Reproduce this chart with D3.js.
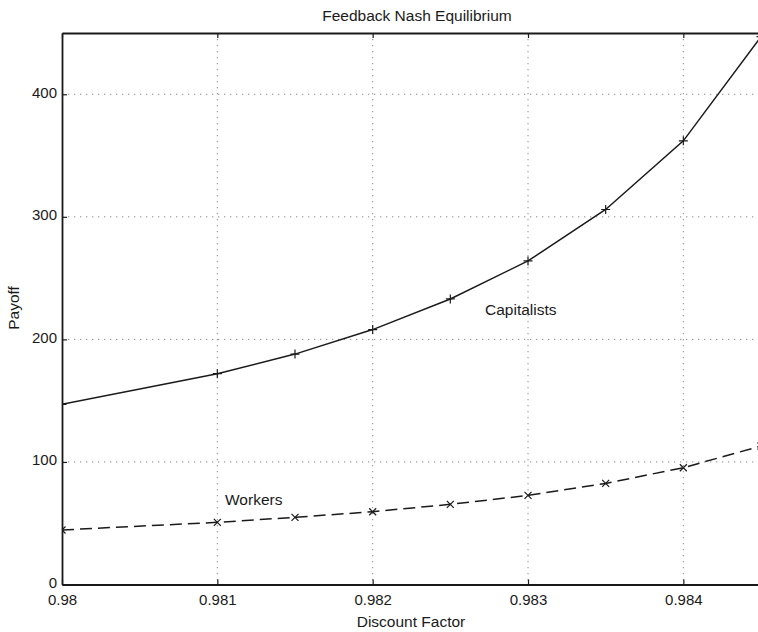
<!DOCTYPE html>
<html lang="en">
<head>
    <meta charset="utf-8">
    <title>Feedback Nash Equilibrium</title>
    <script type="text/javascript" src="https://cdnjs.cloudflare.com/ajax/libs/d3/7.8.5/d3.min.js"></script>
	<style>
	body { margin: 0; background: #fff; }
	svg { display: block; font-family: "Liberation Sans", Arial, sans-serif; }
	.grid line { stroke: #888; stroke-width: 1; stroke-dasharray: 1.3,4.7; }
	.axis path, .axis line { stroke: #1a1a1a; }
	.axis text { fill: #1a1a1a; font-size: 15px; }
	.label { fill: #1a1a1a; font-size: 15.5px; }
	</style>
</head>
<body>
    <script type="text/javascript">
      //discount factor values (x)
      var discount = [0.98, 0.981, 0.9815, 0.982, 0.9825, 0.983, 0.9835, 0.984, 0.9845];
      //payoffs
      var capitalists = [147, 172, 188, 208, 233, 264, 306, 362, 447];
      var workers = [44.5, 50.7, 54.8, 59.4, 65.4, 72.7, 82.5, 95.3, 113];

      var xTicks = [0.98, 0.981, 0.982, 0.983, 0.984];
      var xTickLabels = ["0.98", "0.981", "0.982", "0.983", "0.984"];
      var yTicks = [0, 100, 200, 300, 400];
      var yTickLabels = ["0", "100", "200", "300", "400"];

      var width = 758, height = 632;
      //plot box edges (note: "top" is reserved on window, so use p* names)
      var pLeft = 62, pRight = 761, pTop = 33, pBottom = 584.5;

      var svg = d3.select("body").append("svg")
      .attr("width", width)
      .attr("height", height);

      var x = d3.scaleLinear()
      .domain([0.98, 0.9845])
      .range([pLeft, pRight]);

      var y = d3.scaleLinear()
      .domain([0, 450])
      .range([pBottom, pTop]);

      //dotted grid
      var grid = svg.append("g").attr("class", "grid");
      grid.selectAll(".gx")
      .data(xTicks.slice(1))
      .enter().append("line")
      .attr("x1", function(d) { return x(d); })
      .attr("x2", function(d) { return x(d); })
      .attr("y1", pTop)
      .attr("y2", pBottom);
      grid.selectAll(".gy")
      .data(yTicks.slice(1))
      .enter().append("line")
      .attr("x1", pLeft)
      .attr("x2", pRight)
      .attr("y1", function(d) { return y(d); })
      .attr("y2", function(d) { return y(d); });

      //axes with inward ticks (matlab style box)
      svg.append("g")
      .attr("class", "axis")
      .attr("transform", "translate(0," + pBottom + ")")
      .call(d3.axisBottom(x).tickValues(xTicks)
        .tickFormat(function(d, i) { return xTickLabels[i]; })
        .tickSize(-5).tickPadding(10).tickSizeOuter(0))
      .selectAll("text").attr("dy", "0.7em");

      svg.append("g")
      .attr("class", "axis")
      .attr("transform", "translate(0," + pTop + ")")
      .call(d3.axisTop(x).tickValues(xTicks).tickFormat("")
        .tickSize(-5).tickSizeOuter(0));

      svg.append("g")
      .attr("class", "axis")
      .attr("transform", "translate(" + pLeft + ",0)")
      .call(d3.axisLeft(y).tickValues(yTicks)
        .tickFormat(function(d, i) { return yTickLabels[i]; })
        .tickSize(-5).tickPadding(5).tickSizeOuter(0))
      .selectAll("text").attr("dy", "0.2em");

      svg.selectAll(".axis path").attr("stroke-width", 1.8);
      svg.selectAll(".axis line").attr("stroke-width", 1.2);

      //clip for the curves
      svg.append("clipPath").attr("id", "plot")
      .append("rect")
      .attr("x", pLeft).attr("y", pTop)
      .attr("width", pRight - pLeft).attr("height", pBottom - pTop);

      var plot = svg.append("g").attr("clip-path", "url(#plot)");

      //straight segments between the computed points
      var line = d3.line()
      .x(function(d, i) { return x(discount[i]); })
      .y(function(d) { return y(d); });

      plot.append("path")
      .datum(capitalists)
      .attr("fill", "none")
      .attr("stroke", "#1a1a1a")
      .attr("stroke-width", 1.5)
      .attr("d", line);

      plot.append("path")
      .datum(workers)
      .attr("fill", "none")
      .attr("stroke", "#1a1a1a")
      .attr("stroke-width", 1.5)
      .attr("stroke-dasharray", "12,6")
      .attr("d", line);

      //plus markers on capitalists
      var s = 4.5;
      plot.selectAll(".plus")
      .data(capitalists)
      .enter().append("path")
      .attr("class", "plus")
      .attr("fill", "none")
      .attr("stroke", "#1a1a1a")
      .attr("stroke-width", 1.2)
      .attr("d", function(d, i) {
        var cx = x(discount[i]), cy = y(d);
        return "M" + (cx - s) + "," + cy + "H" + (cx + s) + "M" + cx + "," + (cy - s) + "V" + (cy + s);
      });

      //cross markers on workers
      var c = 3.5;
      plot.selectAll(".cross")
      .data(workers)
      .enter().append("path")
      .attr("class", "cross")
      .attr("fill", "none")
      .attr("stroke", "#1a1a1a")
      .attr("stroke-width", 1.2)
      .attr("d", function(d, i) {
        var cx = x(discount[i]), cy = y(d);
        return "M" + (cx - c) + "," + (cy - c) + "L" + (cx + c) + "," + (cy + c) +
          "M" + (cx - c) + "," + (cy + c) + "L" + (cx + c) + "," + (cy - c);
      });

      //texts
      svg.append("text")
      .attr("class", "label")
      .attr("x", 417).attr("y", 21)
      .attr("text-anchor", "middle")
      .text("Feedback Nash Equilibrium");

      svg.append("text")
      .attr("class", "label")
      .attr("x", 411).attr("y", 627)
      .attr("text-anchor", "middle")
      .text("Discount Factor");

      svg.append("text")
      .attr("class", "label")
      .attr("transform", "translate(19,308) rotate(-90)")
      .attr("text-anchor", "middle")
      .text("Payoff");

      svg.append("text")
      .attr("class", "label")
      .attr("x", 485).attr("y", 315)
      .text("Capitalists");

      svg.append("text")
      .attr("class", "label")
      .attr("x", 225).attr("y", 505)
      .text("Workers");

    </script>
</body>
</html>
